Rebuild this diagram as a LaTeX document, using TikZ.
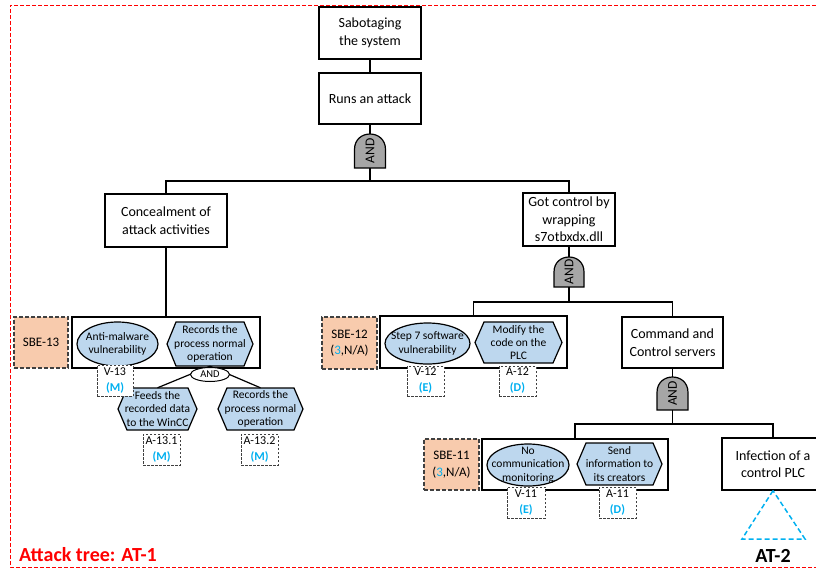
\documentclass[tikz,border=0pt]{standalone}
\usepackage{fontspec}
\setmainfont{Carlito}
\usetikzlibrary{shapes.geometric,calc}
\definecolor{lblue}{RGB}{189,215,238}
\definecolor{peach}{RGB}{248,203,173}
\definecolor{cyanb}{RGB}{0,176,240}
\definecolor{gategray}{RGB}{166,166,166}
\definecolor{dgray}{RGB}{64,64,64}
\newcommand\hexnode[6]{%
 \draw[hexsty] ({#2-#4/2},#3) -- ({#2-#4/2+9},{#3-#5/2}) -- ({#2+#4/2-9},{#3-#5/2}) -- ({#2+#4/2},#3) -- ({#2+#4/2-9},{#3+#5/2}) -- ({#2-#4/2+9},{#3+#5/2}) -- cycle;
 \node[hext, minimum width=#4, minimum height=#5] (#1) at (#2,#3) {#6};}
\newcommand\andgateat[5]{% name, cx, top, bottom, halfwidth
 \draw[gatesty] ({#2-#5},#4) -- ({#2-#5},{#3+#5}) .. controls ({#2-#5},{#3+#5-1.333*#5}) and ({#2+#5},{#3+#5-1.333*#5}) .. ({#2+#5},{#3+#5}) -- ({#2+#5},#4) -- cycle;
 \node[gatetxt] (#1) at (#2,{(#3+#4)/2}) {AND};
 \coordinate (#1t) at (#2,#3);
 \coordinate (#1b) at (#2,#4);}
\begin{document}
\begin{tikzpicture}[x=1pt,y=-1pt,
  box/.style={draw, line width=1.3pt, fill=white, align=center, inner sep=0pt, font=\fontsize{14}{17.5}\selectfont},
  grp/.style={draw, line width=1.3pt, inner sep=0pt},
  sbe/.style={draw=dgray, dash pattern=on 4pt off 2pt, line width=1.3pt, fill=peach, align=center, inner sep=0pt, font=\fontsize{13}{16.5}\selectfont},
  lbl/.style={draw=dgray, dash pattern=on 2.5pt off 1.5pt, line width=0.9pt, fill=white, align=center, inner sep=0pt, font=\fontsize{12}{16}\selectfont},
  ell/.style={ellipse, draw, fill=lblue, line width=1.2pt, inner sep=0pt},
  smallt/.style={align=center, inner sep=0pt, font=\fontsize{11.5}{13.3}\selectfont},
  hexsty/.style={draw, fill=lblue, line width=1.2pt, line join=miter},
  hext/.style={align=center, inner sep=0pt, font=\fontsize{11.5}{13.3}\selectfont},
  gatesty/.style={draw, fill=gategray, line width=1.2pt},
  gatetxt/.style={rotate=90, inner sep=0pt, font=\fontsize{13.5}{15}\selectfont},
  conn/.style={draw, line width=1.3pt},
  lens/.style={ellipse, draw, fill=white, line width=1pt, inner sep=0pt, minimum width=39pt, minimum height=14pt, font=\fontsize{10.5}{11}\selectfont},
  framesty/.style={draw=red, line width=1pt, dash pattern=on 4pt off 2pt},
  tri/.style={draw=cyanb, line width=1.5pt, dash pattern=on 5pt off 3pt}
]
\useasboundingbox (0,0) rectangle (816,570);
\clip (0,0) rectangle (816,570);

% frame
\draw[framesty] (840,5) -| (10,567) -- (840,567);
\node[anchor=west, inner sep=0pt, text=red, font=\bfseries\fontsize{20}{23}\selectfont] (at1) at (19,555) {Attack tree: AT-1};

% top boxes
\node[box, minimum width=102pt, minimum height=52pt] (top) at (370,33) {Sabotaging\\the system};
\node[box, minimum width=102pt, minimum height=51pt] (run) at (370,98.5) {Runs an attack};
\andgateat{g1}{370}{134}{168}{15.5}
\coordinate (bar1) at (370,181);

\node[box, minimum width=122pt, minimum height=53pt] (conc) at (166,220.5) {Concealment of\\attack activities};
\node[box, minimum width=92pt, minimum height=53pt] (got) at (569,219.5) {Got control by\\wrapping\\s7otbxdx.dll};

\draw[conn] (top) -- (run);
\draw[conn] (run) -- (g1t);
\draw[conn] (g1b) -- (bar1);
\draw[conn] (bar1) -| (conc.north);
\draw[conn] (bar1) -| (got.north);

% gate 2
\andgateat{g2}{569}{257}{287}{15}
\coordinate (bar2) at (569,302);
\draw[conn] (got) -- (g2t);
\draw[conn] (g2b) -- (bar2);

% group 1
\node[grp, minimum width=188pt, minimum height=51pt] (grp1) at (166,342.5) {};
\draw[conn] (conc.south) -- (grp1.north);
\node[sbe, minimum width=54pt, minimum height=51pt] (sbe13) at (41,342.5) {SBE-13};
\node[ell, minimum width=81pt, minimum height=44pt] (e13) at (117.5,344) {};
\node[smallt] (e13t) at (e13) {Anti-malware\\vulnerability};
\hexnode{h13}{210}{344}{86}{44}{Records the\\process normal\\operation}
\hexnode{h131}{157.5}{409}{79}{42}{Feeds the\\recorded data\\to the WinCC}
\hexnode{h132}{260.5}{409}{85}{42}{Records the\\process normal\\operation}
\draw[line width=1.2pt] (h13.south) -- (h131.north);
\draw[line width=1.2pt] (h13.south) -- (h132.north);
\node[lens] (and13) at (210,374.5) {AND};
\node[lbl, minimum width=36pt, minimum height=31pt] (v13) at (115,380.5) {V-13\\{\color{cyanb}\bfseries (M)}};
\node[lbl, minimum width=37pt, minimum height=31pt] (a131) at (161.5,449.5) {A-13.1\\{\color{cyanb}\bfseries (M)}};
\node[lbl, minimum width=37pt, minimum height=31pt] (a132) at (259.5,449.5) {A-13.2\\{\color{cyanb}\bfseries (M)}};

% group 2
\node[grp, minimum width=187pt, minimum height=52pt] (grp2) at (473.5,342) {};
\node[box, minimum width=101pt, minimum height=51pt] (cc) at (672.5,342.5) {Command and\\Control servers};
\draw[conn] (bar2) -| (grp2.north);
\draw[conn] (bar2) -| (cc.north);
\node[sbe, minimum width=55pt, minimum height=52pt] (sbe12) at (349.5,343) {SBE-12\\(\textcolor{cyanb}{3},N/A)};
\node[ell, minimum width=85pt, minimum height=41pt] (e12) at (427.5,343.5) {};
\node[smallt] (e12t) at (e12) {Step 7 software\\vulnerability};
\hexnode{h12}{518.5}{342.5}{87}{41}{Modify the\\code on the\\PLC}
\node[lbl, minimum width=37pt, minimum height=30pt] (v12) at (425.5,381) {V-12\\{\color{cyanb}\bfseries (E)}};
\node[lbl, minimum width=37pt, minimum height=30pt] (a12) at (517.5,381) {A-12\\{\color{cyanb}\bfseries (D)}};

% gate 3
\andgateat{g3}{672.5}{377}{410}{15.5}
\coordinate (bar3) at (672.5,424);
\draw[conn] (cc) -- (g3t);
\draw[conn] (g3b) -- (bar3);

% group 3
\node[grp, minimum width=186pt, minimum height=51pt] (grp3) at (575,464.5) {};
\node[box, minimum width=102pt, minimum height=52pt] (inf) at (773,464) {Infection of a\\control PLC};
\draw[conn] (bar3) -| (grp3.north);
\draw[conn] (bar3) -| (inf.north);
\node[sbe, minimum width=55pt, minimum height=51pt] (sbe11) at (451.5,464.5) {SBE-11\\(\textcolor{cyanb}{3},N/A)};
\node[ell, minimum width=82pt, minimum height=42pt] (e11) at (528,465) {};
\node[smallt] (e11t) at (e11) {No\\communication\\monitoring};
\hexnode{h11}{619.5}{464}{85}{42}{Send\\information to\\its creators}
\node[lbl, minimum width=38pt, minimum height=31pt] (v11) at (526,502.5) {V-11\\{\color{cyanb}\bfseries (E)}};
\node[lbl, minimum width=37pt, minimum height=31pt] (a11) at (617.5,502.5) {A-11\\{\color{cyanb}\bfseries (D)}};

% AT-2 triangle
\coordinate (tl) at (742,539);
\coordinate (tr) at (805,539);
\draw[tri] (inf.south) -- (tl) -- (tr) -- cycle;
\node[inner sep=0pt, font=\bfseries\fontsize{20}{23}\selectfont] (at2) at (773,556) {AT-2};
\end{tikzpicture}
\end{document}
